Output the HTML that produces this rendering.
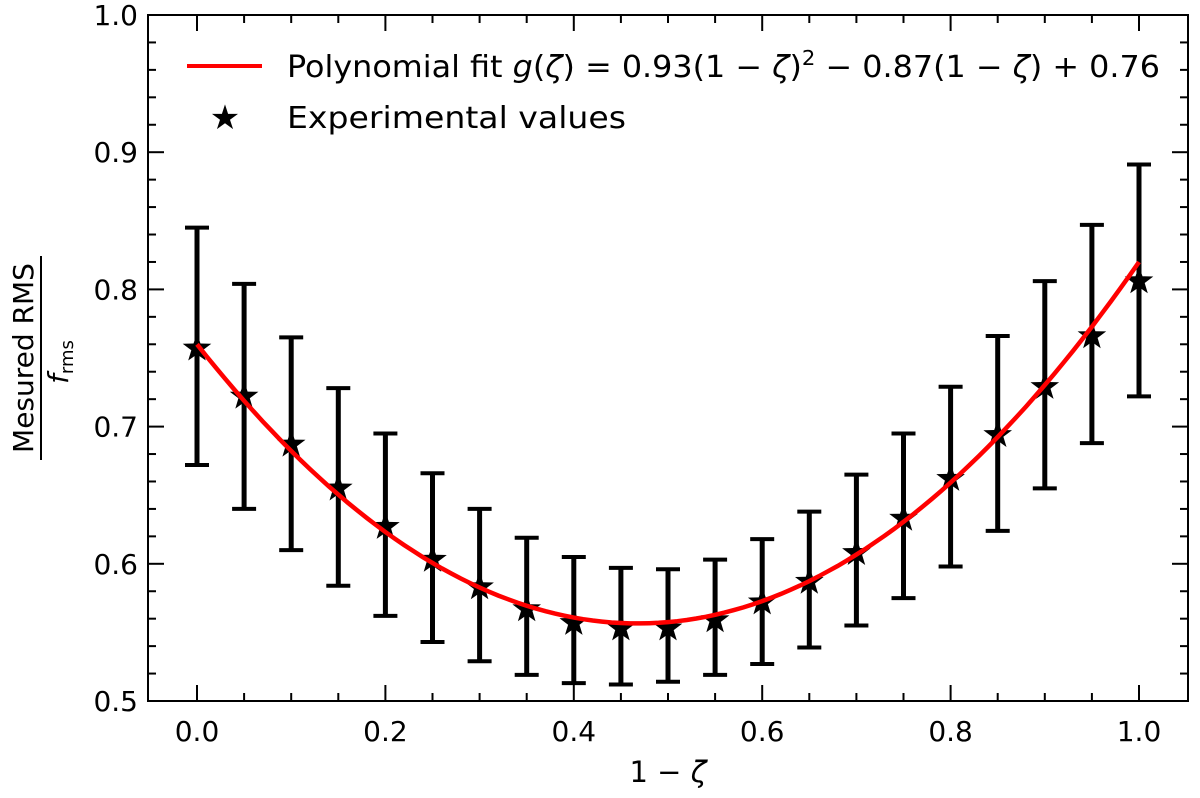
<!DOCTYPE html>
<html><head><meta charset="utf-8"><style>
body{margin:0;background:#fff}
svg text{font-family:"DejaVu Sans","Liberation Sans",sans-serif;fill:#000}
</style></head><body>
<svg id="chart" width="1200" height="793" viewBox="0 0 1200 793" xmlns="http://www.w3.org/2000/svg">
<g id="axes"></g>
<g id="marks"></g>
<g id="legend">
  <line x1="187" y1="66" x2="262" y2="66" stroke="#ff0000" stroke-width="4"/>
  <text x="287" y="77" font-size="30" textLength="873" lengthAdjust="spacingAndGlyphs">Polynomial fit <tspan font-style="italic">g</tspan>(<tspan font-style="italic">ζ</tspan>) = 0.93(1 − <tspan font-style="italic">ζ</tspan>)<tspan font-size="20" dy="-12">2</tspan><tspan dy="12"> − 0.87(1 − </tspan><tspan font-style="italic">ζ</tspan>) + 0.76</text>
  <text x="225" y="129" font-size="34" text-anchor="middle">★</text>
  <text x="287" y="128" font-size="30" textLength="339" lengthAdjust="spacingAndGlyphs">Experimental values</text>
</g>
<text x="668" y="782" font-size="29" text-anchor="middle">1 − <tspan font-style="italic">ζ</tspan></text>
<g transform="translate(0,358) rotate(-90)">
  <text x="0" y="33" font-size="28" text-anchor="middle">Mesured RMS</text>
  <line x1="-102" y1="41" x2="102" y2="41" stroke="#000" stroke-width="2"/>
  <text x="-4" y="68" font-size="28" text-anchor="middle" font-style="italic">f<tspan font-style="normal" font-size="18" dy="5">rms</tspan></text>
</g>
</svg>
<script>
const xs=[0,0.05,0.1,0.15,0.2,0.25,0.3,0.35,0.4,0.45,0.5,0.55,0.6,0.65,0.7,0.75,0.8,0.85,0.9,0.95,1.0];
const centers=[0.757,0.722,0.687,0.655,0.627,0.603,0.583,0.567,0.557,0.553,0.553,0.559,0.572,0.587,0.608,0.633,0.662,0.694,0.729,0.766,0.806];
const upper=[0.845,0.804,0.765,0.728,0.695,0.666,0.640,0.619,0.605,0.597,0.596,0.603,0.618,0.638,0.665,0.695,0.729,0.766,0.806,0.847,0.891];
const lower=[0.672,0.640,0.610,0.584,0.562,0.543,0.529,0.519,0.513,0.512,0.514,0.519,0.527,0.539,0.555,0.575,0.598,0.624,0.655,0.688,0.722];
const fitCoef=[0.93,-0.87,0.76];
const xTicks=[0,0.2,0.4,0.6,0.8,1.0];
const xTickLabels=["0.0","0.2","0.4","0.6","0.8","1.0"];
const yTicks=[0.5,0.6,0.7,0.8,0.9,1.0];
const yTickLabels=["0.5","0.6","0.7","0.8","0.9","1.0"];
const NS="http://www.w3.org/2000/svg";
const L=148,R=1188,T=15,B=701;
const X=v=>197+(v-0)*(1139-197);
const Y=v=>B-(v-0.5)/(0.5)*(B-T);
function mk(tag,attrs,parent){const e=document.createElementNS(NS,tag);for(const k in attrs)e.setAttribute(k,attrs[k]);parent.appendChild(e);return e;}
const ax=document.getElementById('axes'),mg=document.getElementById('marks');
let fr=mk('rect',{x:L,y:T,width:R-L,height:B-T,fill:'none',stroke:'#000','stroke-width':2},ax);


for(let i=0;i<=20;i++){const v=i*0.05;const px=X(v);const major=i%4===0;const len=major?16:8;
 mk('line',{x1:px,y1:B,x2:px,y2:B-len,stroke:'#000','stroke-width':2},ax);
 mk('line',{x1:px,y1:T,x2:px,y2:T+len,stroke:'#000','stroke-width':2},ax);}
xTicks.forEach((v,i)=>{const t=mk('text',{x:X(v),y:B+40,'font-size':28,'text-anchor':'middle'},ax);t.textContent=xTickLabels[i];
 
 });
for(let i=0;i<=25;i++){const v=0.5+i*0.02;const py=Y(v);const major=i%5===0;const len=major?16:8;
 mk('line',{x1:L,y1:py,x2:L+len,y2:py,stroke:'#000','stroke-width':2},ax);
 mk('line',{x1:R,y1:py,x2:R-len,y2:py,stroke:'#000','stroke-width':2},ax);}
yTicks.forEach((v,i)=>{const t=mk('text',{x:L-10,y:Y(v)+10,'font-size':28,'text-anchor':'end'},ax);t.textContent=yTickLabels[i];
 
 });
xs.forEach((x,i)=>{const px=X(x);const g=mk('g',{},mg);
 
 
 mk('line',{x1:px,y1:Y(upper[i]),x2:px,y2:Y(lower[i]),stroke:'#000','stroke-width':5},g);
 mk('line',{x1:px-12,y1:Y(upper[i]),x2:px+12,y2:Y(upper[i]),stroke:'#000','stroke-width':4},g);
 mk('line',{x1:px-12,y1:Y(lower[i]),x2:px+12,y2:Y(lower[i]),stroke:'#000','stroke-width':4},g);});
function starPts(cx,cy,r){let p=[];for(let k=0;k<10;k++){const a=-Math.PI/2+k*Math.PI/5;const rr=k%2?r*0.4:r;p.push((cx+rr*Math.cos(a)).toFixed(1)+','+(cy+rr*Math.sin(a)).toFixed(1));}return p.join(' ');}
xs.forEach((x,i)=>{const s=mk('polygon',{points:starPts(X(x),Y(centers[i]),15),fill:'#000'},mg);
 
 });
let d='';for(let k=0;k<=100;k++){const u=k/100;const v=fitCoef[0]*u*u+fitCoef[1]*u+fitCoef[2];d+=(k?'L':'M')+X(u).toFixed(1)+','+Y(v).toFixed(1);}
const fc=mk('path',{d:d,fill:'none',stroke:'#ff0000','stroke-width':4.5},mg);


</script>
</body></html>
